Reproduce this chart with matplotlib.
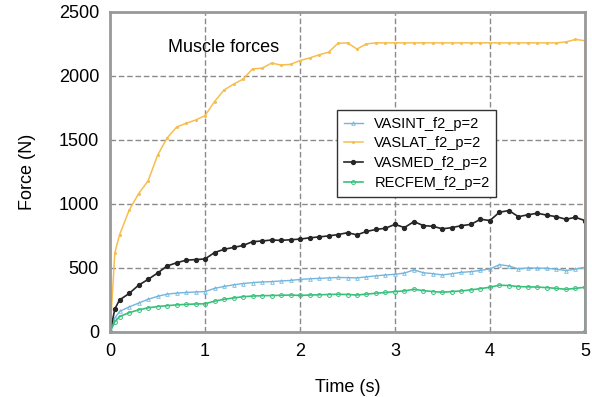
import numpy as np
import matplotlib
matplotlib.use("Agg")
import matplotlib.pyplot as plt

plt.rcParams['font.family'] = ['Liberation Sans', 'DejaVu Sans']

# time samples (s); last point repeated at 5.0 where the forces drop to zero
t = [0, 0.05] + [round(0.1 * i, 1) for i in range(1, 51)] + [5.0]

vasint = [0, 110, 160, 195, 225, 255, 278, 295, 303, 308, 312, 315,
          340, 355, 368, 378, 385, 390, 393, 398, 402, 410,
          415, 418, 422, 425, 424, 422, 430, 438, 445, 450,
          460, 484, 462, 455, 445, 455, 465, 471, 480, 492,
          525, 515, 492, 500, 498, 497, 490, 479, 490, 505, 0]
vaslat = [0, 620, 760, 950, 1080, 1180, 1380, 1515, 1600, 1630, 1655, 1690,
          1800, 1890, 1935, 1975, 2055, 2060, 2100, 2085, 2090, 2120,
          2140, 2165, 2185, 2255, 2258, 2210, 2250, 2258, 2258, 2258,
          2258, 2258, 2258, 2258, 2258, 2258, 2258, 2258, 2258, 2258,
          2258, 2258, 2258, 2258, 2258, 2258, 2258, 2265, 2285, 2275, 0]
vasmed = [0, 180, 250, 300, 365, 410, 460, 515, 540, 560, 565, 570,
          620, 645, 660, 675, 705, 710, 718, 715, 720, 725,
          735, 742, 750, 760, 775, 758, 785, 800, 810, 840,
          815, 862, 830, 825, 805, 815, 830, 840, 880, 870,
          935, 948, 900, 915, 927, 912, 900, 880, 895, 870, 0]
recfem = [0, 80, 120, 150, 172, 188, 198, 205, 211, 215, 218, 220,
          240, 255, 265, 275, 280, 283, 284, 286, 288, 285,
          288, 290, 292, 294, 292, 288, 295, 302, 308, 315,
          320, 333, 322, 315, 310, 315, 320, 328, 338, 349,
          365, 362, 354, 352, 350, 346, 340, 333, 340, 349, 0]

fig = plt.figure(figsize=(5.92, 3.97), dpi=100)
ax = fig.add_axes([0.186, 0.164, 0.802, 0.806])

ax.plot(t, vasint, color='#72b6de', lw=1.0, marker='^', ms=2.6, mew=0.6,
        mfc='none', label='VASINT_f2_p=2')
ax.plot(t, vaslat, color='#f7be4f', lw=1.1, marker='.', ms=2.5,
        label='VASLAT_f2_p=2')
ax.plot(t, vasmed, color='#262626', lw=1.2, marker='o', ms=2.8,
        label='VASMED_f2_p=2')
ax.plot(t, recfem, color='#38c17c', lw=1.2, marker='o', ms=2.8, mew=0.7,
        mfc='none', label='RECFEM_f2_p=2')

ax.set_xlim(0, 5)
ax.set_ylim(0, 2500)
ax.set_xticks([0, 1, 2, 3, 4, 5])
ax.set_yticks([0, 500, 1000, 1500, 2000, 2500])
ax.tick_params(labelsize=13, length=0, pad=8)
ax.grid(True, color='#8a8a8a', ls=(0, (4, 2)), lw=1)
for s in ax.spines.values():
    s.set_color('#999999')
    s.set_linewidth(2)

ax.set_xlabel('Time (s)', fontsize=13, labelpad=14)
ax.set_ylabel('Force (N)', fontsize=13, labelpad=16)
ax.text(1.2, 2220, 'Muscle forces', fontsize=13, ha='center', va='center')

leg = ax.legend(loc='upper left', bbox_to_anchor=(0.463, 0.716),
                fontsize=10.5, fancybox=False, framealpha=1,
                edgecolor='#333333', handlelength=1.3, labelspacing=0.4,
                borderpad=0.45)
leg.get_frame().set_linewidth(1)

fig.savefig('out.png', dpi=100)
